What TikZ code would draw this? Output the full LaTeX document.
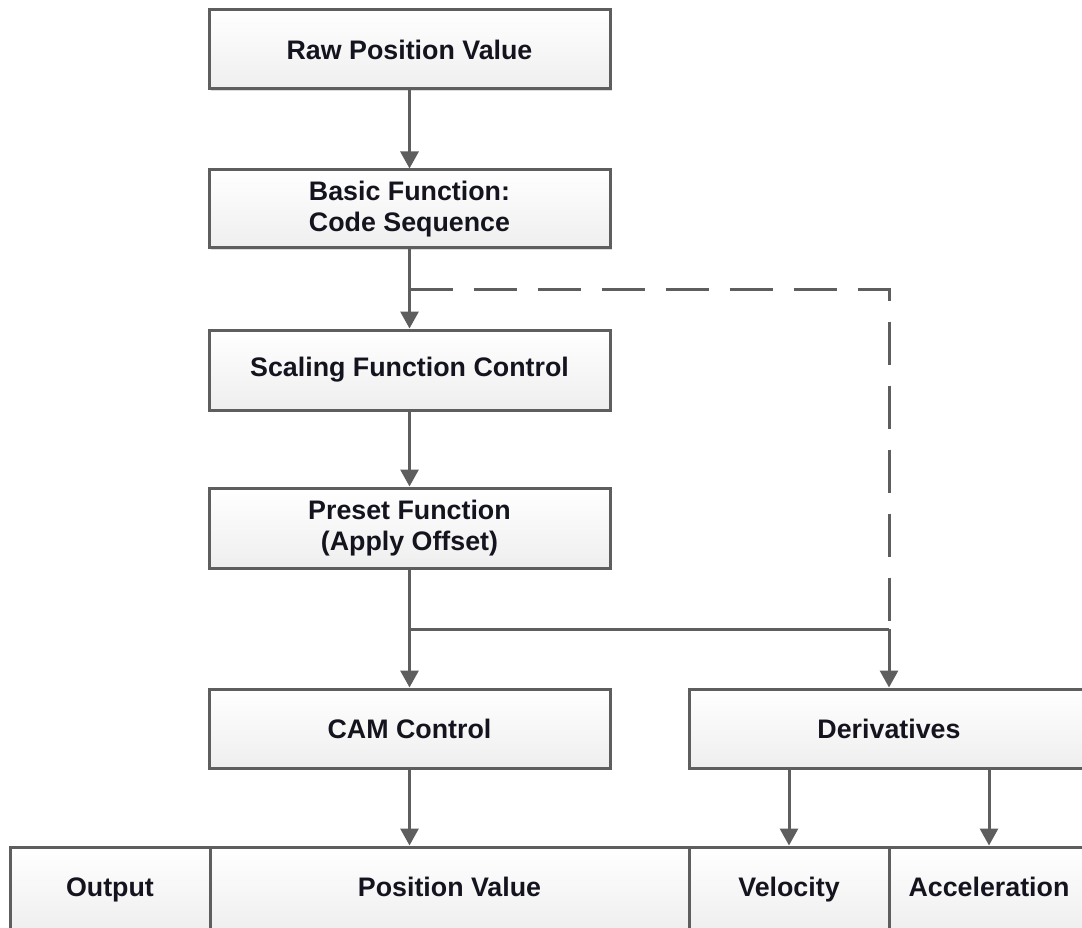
\documentclass[tikz,border=0pt]{standalone}
\usepackage{fontspec}
\setmainfont{Liberation Sans}
\usetikzlibrary{arrows.meta,shadows}
\definecolor{edge}{HTML}{5E5E5E}
\definecolor{txt}{HTML}{14141E}
\tikzset{
  box/.style={draw=edge, line width=3pt, top color=white, bottom color=gray!13,
    minimum height=79pt, inner sep=0pt, align=center, text=txt,
    font=\fontsize{26.8}{31}\selectfont\bfseries,
    drop shadow={shadow xshift=2pt, shadow yshift=-2pt, fill=gray!45, opacity=0.6}},
  cell/.style={draw=edge, line width=3pt, top color=white, bottom color=gray!13,
    minimum height=84pt, inner sep=0pt, align=center, text=txt,
    text height=19pt, text depth=5pt,
    font=\fontsize{26.8}{31}\selectfont\bfseries},
  conn/.style={draw=edge, line width=3pt},
  arr/.style={conn, -{Triangle[length=17pt,width=18pt]}},
  dashconn/.style={conn, dash pattern=on 43pt off 21pt}
}
\begin{document}
\begin{tikzpicture}[x=1pt,y=-1pt]
\clip (0,0) rectangle (1082,928);
\fill[white] (0,0) rectangle (1082,928);
\node[box, minimum width=401pt, minimum height=79pt] (raw) at (409.5,49.5) {Raw Position Value};
\node[box, minimum width=401pt, minimum height=78pt] (basic) at (409.5,209) {Basic Function:\\Code Sequence};
\node[box, minimum width=401pt, minimum height=80pt] (scal) at (409.5,370) {Scaling Function Control};
\node[box, minimum width=401pt, minimum height=80pt] (pre) at (409.5,528) {Preset Function\\(Apply Offset)};
\node[box, minimum width=401pt, minimum height=79pt] (cam) at (409.5,728.5) {CAM Control};
\node[box, minimum width=400pt, minimum height=79pt] (der) at (889,728.5) {Derivatives};
\node[cell, minimum width=200pt] (out) at (110,889) {Output};
\node[cell, minimum width=479pt] (pos) at (449.5,889) {Position Value};
\node[cell, minimum width=200pt] (vel) at (789,889) {Velocity};
\node[cell, minimum width=200pt] (acc) at (989,889) {Acceleration};
\coordinate (j1) at (409.5,289);
\coordinate (d1) at (889,289);
\coordinate (j2) at (409.5,629);
\coordinate (d2) at (889,629);
\draw[arr] (raw.south) -- (basic.north);
\draw[arr] (basic.south) -- (scal.north);
\draw[dashconn] (j1) -- (d1) -- (d2);
\draw[arr] (scal.south) -- (pre.north);
\draw[conn] (pre.south) -- (j2) -- (d2);
\draw[arr] (j2) -- (cam.north);
\draw[arr] (d2) -- (der.north);
\draw[arr] (cam.south) -- (pos.north -| cam.south);
\draw[arr] (der.south -| vel.north) -- (vel.north);
\draw[arr] (der.south -| acc.north) -- (acc.north);
\end{tikzpicture}
\end{document}
